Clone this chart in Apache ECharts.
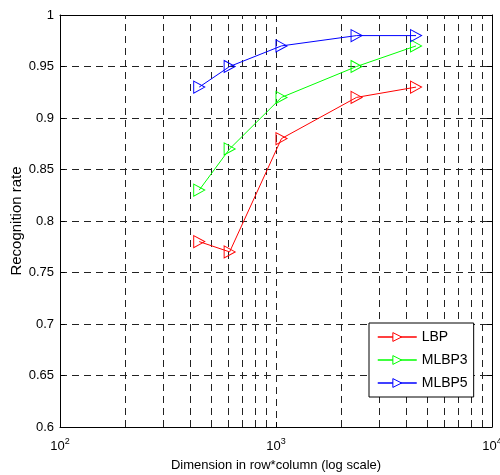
<!DOCTYPE html>
<html><head><meta charset="utf-8">
<script src="https://cdn.jsdelivr.net/npm/echarts@6/dist/echarts.min.js"></script>
<style>html,body{margin:0;padding:0;background:#fff}#c{width:500px;height:475px}</style>
</head><body><div id="c"></div>
<script>
const dims = [441, 610, 1060, 2360, 4450];
const lbp = [0.78, 0.77, 0.88, 0.92, 0.93];
const mlbp3 = [0.83, 0.87, 0.92, 0.95, 0.97];
const mlbp5 = [0.93, 0.95, 0.97, 0.98, 0.98];
const minorX = [200,300,400,500,600,700,800,900,2000,3000,4000,5000,6000,7000,8000,9000];
const names = ['LBP','MLBP3','MLBP5'];
const colors = ['#ff0000','#00ff00','#0000ff'];

const FONT = 'Liberation Sans';
const gridLine = {color:'#222', width:1, type:[7,5]};
const tri = 'path://M0,0 L12,6 L0,12 Z';
function mk(name, color, vals){
  return {
    name, type:'line', data: dims.map((d,i)=>[d, vals[i]]),
    symbol: tri, symbolSize:[11,12], showSymbol:true,
    lineStyle:{color, width:1}, itemStyle:{color:'rgba(0,0,0,0)', borderColor:color, borderWidth:1},
    emphasis:{disabled:true}, animation:false, z:5
  };
}
const series = [mk(names[0],colors[0],lbp), mk(names[1],colors[1],mlbp3), mk(names[2],colors[2],mlbp5)];
series.push({
  type:'line', data:[], silent:true, animation:false, z:1,
  markLine:{silent:true, symbol:['none','none'], label:{show:false}, lineStyle:gridLine, animation:false,
    data: minorX.map(v=>({xAxis:v}))}
});
const chart = echarts.init(document.getElementById('c'));
chart.setOption({
  animation:false,
  grid:{left:60, top:15, right:8, bottom:48, containLabel:false, outerBoundsMode:'none'},
  legend:{
    z:20, zlevel:1,
    data: names.map((n,i)=>({name:n, itemStyle:{color:'#fff', borderColor:colors[i], borderWidth:1}, lineStyle:{color:colors[i], width:1.5}})),
    orient:'vertical', left:369, top:323,
    itemWidth:39, itemHeight:11, itemGap:9, padding:[7,6,7,8],
    backgroundColor:'#fff', borderColor:'#000', borderWidth:1, borderRadius:0,
    textStyle:{fontFamily:FONT, fontSize:14, color:'#000'}
  },
  xAxis:[{
    type:'log', logBase:10, min:100, max:10000,
    name:'Dimension in row*column (log scale)', nameLocation:'middle', nameGap:32, nameMoveOverlap:false,
    nameTextStyle:{fontFamily:FONT, fontSize:13, color:'#000'},
    axisLine:{lineStyle:{color:'#000', width:1}},
    axisTick:{inside:true, length:5, lineStyle:{color:'#000'}},
    axisLabel:{margin:10, formatter:v=>'{b|10}{s|'+Math.round(Math.log10(v))+'}',
      rich:{b:{fontFamily:FONT, fontSize:13, color:'#000'}, s:{fontFamily:FONT, fontSize:9, color:'#000', padding:[0,0,9,0]}}},
    splitLine:{show:true, lineStyle:gridLine}
  },{
    type:'log', logBase:10, min:100, max:10000, position:'top',
    axisLine:{show:true, lineStyle:{color:'#000', width:1}},
    axisTick:{inside:true, length:5, lineStyle:{color:'#000'}},
    axisLabel:{show:false}, splitLine:{show:false}
  }],
  yAxis:[{
    type:'value', min:0.6, max:1, interval:0.05,
    name:'Recognition rate', nameLocation:'middle', nameGap:36, nameMoveOverlap:false,
    nameTextStyle:{fontFamily:FONT, fontSize:15, color:'#000'},
    axisLine:{show:true, lineStyle:{color:'#000', width:1}},
    axisTick:{show:true, inside:true, length:5, lineStyle:{color:'#000'}},
    axisLabel:{margin:6, fontFamily:FONT, fontSize:13, color:'#000', formatter:v=>String(+v.toFixed(2))},
    splitLine:{show:true, lineStyle:gridLine}
  },{
    type:'value', min:0.6, max:1, interval:0.05, position:'right',
    axisLine:{show:true, lineStyle:{color:'#000', width:1}},
    axisTick:{show:true, inside:true, length:5, lineStyle:{color:'#000'}},
    axisLabel:{show:false}, splitLine:{show:false}
  }],
  series
});
</script></body></html>
